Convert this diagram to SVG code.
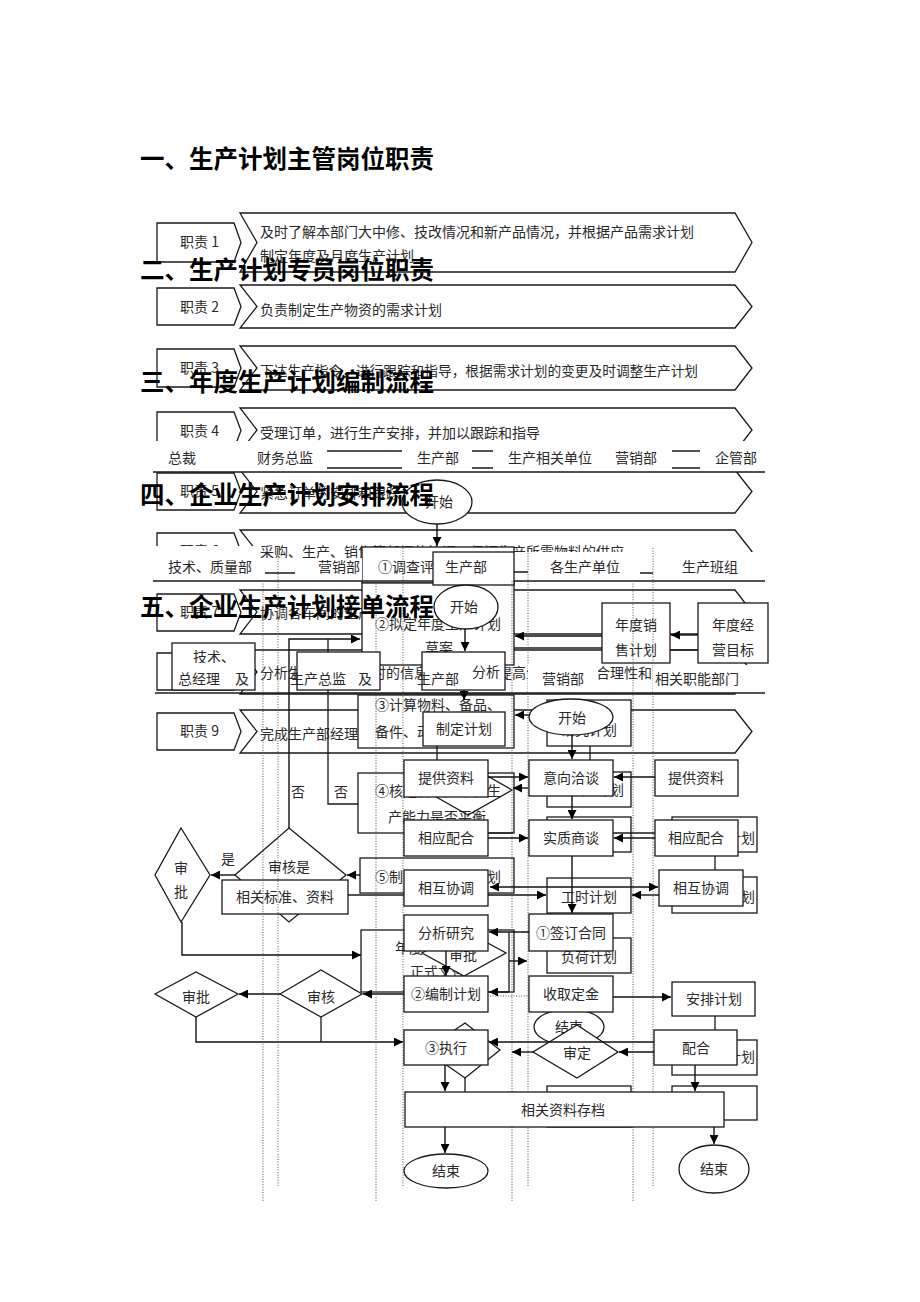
<svg xmlns="http://www.w3.org/2000/svg" width="920" height="1302" viewBox="0 0 920 1302">
<defs>
<style>
.b{fill:#fff;stroke:#1a1a1a;stroke-width:1.3}
.o{fill:none;stroke:#1a1a1a;stroke-width:1.3}
.w{fill:#fff;stroke:none}
.d{fill:none;stroke:#555;stroke-width:1;stroke-dasharray:1 1.6}
.t{font-family:"Noto Sans CJK SC","Noto Sans",sans-serif;font-size:14px;fill:#2a2a2a}
.c{text-anchor:middle}
.e{text-anchor:end}
.h{font-family:"Noto Sans CJK SC","Noto Sans",sans-serif;font-size:24.5px;font-weight:bold;fill:#000}
.a{fill:none;stroke:#111;stroke-width:1.4;marker-end:url(#ah)}
.a2{fill:none;stroke:#111;stroke-width:1.4;marker-end:url(#ah);marker-start:url(#ah)}
</style>
<marker id="ah" viewBox="0 0 10 10" refX="10" refY="5" markerWidth="10" markerHeight="9" markerUnits="userSpaceOnUse" orient="auto-start-reverse"><path d="M0,0 L10,5 L0,10 z" fill="#000"/></marker>
</defs>
<rect width="920" height="1302" fill="#fff"/>

<!-- duty rows -->
<g id="duty1"><polygon class="b" points="240,213 735,213 752,242.5 735,272 240,272 257,242.5"/><polygon class="b" points="157,223 234,223 241,242.5 234,262 157,262"/><text class="t" x="180" y="247">职责 1</text><text class="t" x="260" y="237">及时了解本部门大中修、技改情况和新产品情况，并根据产品需求计划</text><text class="t" x="260" y="261">制定年度及月度生产计划</text></g>
<g id="duty2"><polygon class="b" points="240,285 735,285 752,306.5 735,328 240,328 257,306.5"/><polygon class="b" points="157,288 234,288 241,306.5 234,325 157,325"/><text class="t" x="180" y="312">职责 2</text><text class="t" x="260" y="315">负责制定生产物资的需求计划</text></g>
<g id="duty3"><polygon class="b" points="240,346 735,346 752,368 735,390 240,390 257,368"/><polygon class="b" points="157,349 234,349 241,368 234,387 157,387"/><text class="t" x="180" y="373">职责 3</text><text class="t" x="260" y="376" style="font-size:13.7px">下达生产指令，进行跟踪和指导，根据需求计划的变更及时调整生产计划</text></g>
<g id="duty4"><polygon class="b" points="240,408 735,408 752,430 735,452 240,452 257,430"/><polygon class="b" points="157,412 234,412 241,430.5 234,449 157,449"/><text class="t" x="180" y="436">职责 4</text><text class="t" x="260" y="438">受理订单，进行生产安排，并加以跟踪和指导</text></g>
<g id="duty5"><polygon class="b" points="240,470 735,470 752,491.5 735,513 240,513 257,491.5"/><polygon class="b" points="157,473 234,473 241,491.5 234,510 157,510"/><text class="t" x="180" y="496">职责 5</text><text class="t" x="260" y="498">紧急订单的安排和跟踪</text></g>
<g id="duty6"><polygon class="b" points="240,530 735,530 752,551.5 735,573 240,573 257,551.5"/><polygon class="b" points="157,533 234,533 241,551.5 234,570 157,570"/><text class="t" x="180" y="556">职责 6</text><text class="t" x="260" y="557">采购、生产、销售等部门的协调，保证生产所需物料的供应</text></g>
<g id="duty7"><polygon class="b" points="240,590 735,590 752,612 735,634 240,634 257,612"/><polygon class="b" points="157,594 234,594 241,612.5 234,631 157,631"/><text class="t" x="180" y="617">职责 7</text><text class="t" x="260" y="618">协调各车间的生产工作</text></g>
<g id="duty8"><polygon class="b" points="240,650 735,650 752,672 735,694 240,694 257,672"/><polygon class="b" points="157,653 234,653 241,671.5 234,690 157,690"/><text class="t" x="180" y="677">职责 8</text><text class="t" x="260" y="678">分析生产过程中及时的信息反馈，不断提高生产计划的合理性和准确性</text></g>
<g id="duty9"><polygon class="b" points="240,710 735,710 752,731.5 735,753 240,753 257,731.5"/><polygon class="b" points="157,713 234,713 241,731.5 234,750 157,750"/><text class="t" x="180" y="736">职责 9</text><text class="t" x="260" y="739">完成生产部经理交办的其他工作</text></g>

<!-- flow 3 header -->
<g id="f3-header"><rect class="w" x="153" y="441" width="612" height="31"/>
<path class="o" d="M327,451H402M327,468H402M472,451H493M472,468H493M672,451H700M672,468H700M153,472H765"/>
<text class="t" x="168" y="463">总裁</text><text class="t" x="257" y="463">财务总监</text><text class="t" x="417" y="463">生产部</text><text class="t" x="508" y="463">生产相关单位</text><text class="t" x="615" y="463">营销部</text><text class="t" x="715" y="463">企管部</text></g>

<!-- flow 3 nodes -->
<g id="f3-start"><ellipse class="b" cx="437" cy="502" rx="35" ry="22"/><text class="t c" x="439" y="507">开始</text></g>
<g id="f3-s1"><rect class="b" x="362" y="547" width="152" height="36"/><text class="t" x="378" y="572">①调查评估</text></g>
<g id="f3-s2"><rect class="b" x="362" y="583" width="152" height="82"/><text class="t" x="375" y="629">②拟定年度生产计划</text><text class="t c" x="439" y="653">草案</text></g>
<g id="f3-sales"><rect class="b" x="602" y="603" width="68" height="60"/><text class="t c" x="636" y="630">年度销</text><text class="t c" x="636" y="655">售计划</text></g>
<g id="f3-goal"><rect class="b" x="698" y="603" width="70" height="60"/><text class="t c" x="733" y="630">年度经</text><text class="t c" x="733" y="655">营目标</text></g>
<g id="f3-s3"><rect class="b" x="358" y="695" width="156" height="53"/><text class="t" x="375" y="710">③计算物料、备品、</text><text class="t" x="375" y="737">备件、动力需求</text></g>
<g id="f3-s4"><rect class="b" x="358" y="773" width="156" height="60"/><text class="t" x="375" y="796">④核定各生产单位生</text><text class="t" x="388" y="822">产能力是否平衡</text><polygon class="o" points="468,765 512,790 468,815 424,790"/></g>
<g id="f3-s5"><rect class="b" x="360" y="858" width="154" height="35"/><text class="t" x="375" y="882">⑤制定年度生产计划</text></g>
<g id="f3-check"><polygon class="b" points="289,828 346,875 289,922 235,875"/><text class="t c" x="289" y="872">审核是</text></g>
<g id="f3-approve"><polygon class="b" points="181,828 210,875 181,922 155,875"/><text class="t c" x="181" y="873">审</text><text class="t c" x="181" y="897">批</text></g>
<g id="f3-std"><rect class="b" x="222" y="880" width="126" height="34"/><text class="t c" x="285" y="902">相关标准、资料</text></g>
<g id="f3-doc"><rect class="b" x="361" y="930" width="153" height="62"/><text class="t c" x="437" y="953">年度生产计划</text><text class="t c" x="438" y="977">正式文件</text></g>
<g id="f3-approve2"><polygon class="b" points="464,930 506,953 464,976 422,953"/><text class="t c" x="463" y="960">审批</text></g>
<g id="f3-check2"><polygon class="b" points="280,994 321,970 362,994 321,1017"/><text class="t c" x="321" y="1002">审核</text></g>
<g id="f3-approve3"><polygon class="b" points="155,994 196,972 238,994 196,1017"/><text class="t c" x="196" y="1002">审批</text></g>

<g id="f3-connectors">
<path class="a" d="M437,524V546"/>
<path class="a" d="M289,828V639H360"/>
<path class="o" d="M358,804H328V639"/>
<path class="a" d="M235,875H211"/>
<path class="a" d="M360,875H347"/>
<path class="a" d="M182,922V955H361"/>
<path class="o" d="M348,895H404"/>
<path class="a" d="M404,994H363"/>
<path class="a" d="M280,994H239"/>
<path class="a" d="M196,1017V1042H403"/>
<path class="o" d="M321,1017V1042"/>
<path class="a" d="M602,636H515"/>
<path class="o" d="M514,648H602"/>
<path class="a" d="M698,635H671"/>
<path class="o" d="M670,650H698"/>
<text class="t c" x="298" y="797">否</text><text class="t c" x="341" y="797">否</text><text class="t c" x="228" y="864">是</text>
</g>

<!-- flow 4 header -->
<g id="f4-header"><rect class="w" x="153" y="546" width="105" height="35"/><rect class="w" x="258" y="558" width="104" height="23"/><rect class="w" x="514" y="552" width="251" height="29"/>
<path class="o" d="M265,573H295M514,572H528M640,573H653M153,581H765"/>
<text class="t" x="168" y="572">技术、质量部</text><text class="t" x="318" y="572">营销部</text><text class="t" x="550" y="572">各生产单位</text><text class="t" x="682" y="572">生产班组</text>
<rect class="b" x="433" y="552" width="81" height="33"/><text class="t c" x="466" y="572">生产部</text></g>

<!-- lane dividers -->
<g id="lanes">
<path class="d" d="M263,581V1202M376,581V1202M512,581V1202M633,581V1202"/>
<path class="d" d="M278,548V1187M403,548V1187M528,548V1187M653,548V1187"/>
</g>

<!-- flow 4 nodes -->
<g id="f4-start"><ellipse class="b" cx="466" cy="607" rx="32" ry="22"/><text class="t c" x="464" y="612">开始</text></g>
<g id="f4-analyse"><rect class="b" x="422" y="652" width="83" height="38"/><text class="t c" x="486" y="677">分析</text></g>
<g id="f4-plan"><rect class="b" x="423" y="712" width="82" height="34"/><text class="t c" x="464" y="734">制定计划</text></g>
<g id="f4-study"><rect class="b" x="547" y="700" width="84" height="46"/><text class="t c" x="589" y="735">研究计划</text></g>
<g id="f4-p1"><rect class="b" x="547" y="772" width="84" height="35"/><text class="t c" x="596" y="795">生产计划</text></g>
<g id="f4-p2"><rect class="b" x="547" y="817" width="84" height="35"/></g>
<g id="f4-hours"><rect class="b" x="547" y="878" width="84" height="35"/><text class="t c" x="589" y="902">工时计划</text></g>
<g id="f4-load"><rect class="b" x="547" y="938" width="84" height="35"/><text class="t c" x="589" y="962">负荷计划</text></g>
<g id="f4-g1"><rect class="b" x="672" y="817" width="85" height="35"/><text class="t e" x="755" y="843">计划</text></g>
<g id="f4-g2"><rect class="b" x="672" y="877" width="85" height="36"/><text class="t e" x="755" y="902">计划</text></g>
<g id="f4-g3"><rect class="b" x="672" y="1040" width="85" height="35"/><text class="t e" x="755" y="1062">计划</text></g>
<g id="f4-g4"><rect class="b" x="672" y="1086" width="85" height="34"/></g>
<g id="f4-p3"><rect class="b" x="547" y="1086" width="84" height="41"/></g>
<g id="f4-end"><ellipse class="b" cx="569" cy="1027" rx="35" ry="18"/><text class="t c" x="569" y="1032">结束</text></g>
<g id="f4-decide"><polygon class="b" points="577,1025 618,1052 577,1078 533,1052"/><text class="t c" x="577" y="1058">审定</text></g>
<g id="f4-dia"><polygon class="b" points="465,1023 500,1050 465,1078 425,1050"/></g>
<g id="f4-connectors">
<path class="a" d="M465,629V651"/>
<path class="a" d="M464,690V700"/>
<path class="o" d="M437,746V760"/>
<path class="a" d="M530,715H515"/>
<path class="o" d="M590,746V760"/>
<path class="o" d="M465,1078V1092"/>
</g>

<!-- flow 5 header -->
<g id="f5-header">
<rect class="b" x="172" y="643" width="83" height="47"/>
<text class="t" x="193" y="662">技术、</text>
<rect class="w" x="173" y="663" width="81" height="26"/>
<text class="t" x="178" y="684">总经理</text><text class="t" x="235" y="684">及</text>
<rect class="b" x="297" y="652" width="83" height="38"/>
<text class="t" x="290" y="684">生产总监</text><text class="t" x="358" y="684">及</text>
<rect class="w" x="528" y="665" width="70" height="28"/><text class="t" x="542" y="684">营销部</text>
<rect class="w" x="653" y="665" width="102" height="28"/><text class="t" x="655" y="684">相关职能部门</text>
<text class="t" x="417" y="684">生产部</text>
<path class="o" d="M155,693H765"/>
</g>

<!-- flow 5 nodes -->
<g id="f5-start"><ellipse class="b" cx="571" cy="717" rx="42" ry="18"/><text class="t c" x="572" y="723">开始</text></g>
<g id="f5-intent"><rect class="b" x="529" y="760" width="84" height="36"/><text class="t c" x="571" y="783">意向洽谈</text></g>
<g id="f5-nego"><rect class="b" x="529" y="820" width="84" height="36"/><text class="t c" x="571" y="843">实质商谈</text></g>
<g id="f5-sign"><rect class="b" x="529" y="914" width="84" height="37"/><text class="t c" x="571" y="938">①签订合同</text></g>
<g id="f5-deposit"><rect class="b" x="529" y="976" width="84" height="36"/><text class="t c" x="571" y="999">收取定金</text></g>
<g id="f5-infoL"><rect class="b" x="404" y="760" width="84" height="37"/><text class="t c" x="446" y="783">提供资料</text></g>
<g id="f5-coopL"><rect class="b" x="404" y="820" width="84" height="36"/><text class="t c" x="446" y="843">相应配合</text></g>
<g id="f5-coordL"><rect class="b" x="404" y="870" width="84" height="36"/><text class="t c" x="446" y="893">相互协调</text></g>
<g id="f5-research"><rect class="b" x="404" y="915" width="84" height="36"/><text class="t c" x="446" y="938">分析研究</text></g>
<g id="f5-compile"><rect class="b" x="404" y="976" width="84" height="36"/><text class="t c" x="446" y="999">②编制计划</text></g>
<g id="f5-exec"><rect class="b" x="404" y="1030" width="84" height="35"/><text class="t c" x="446" y="1053">③执行</text></g>
<g id="f5-archive"><rect class="b" x="405" y="1092" width="319" height="35"/><text class="t c" x="563" y="1115">相关资料存档</text></g>
<g id="f5-endL"><ellipse class="b" cx="446" cy="1171" rx="42" ry="17"/><text class="t c" x="446" y="1176">结束</text></g>
<g id="f5-infoR"><rect class="b" x="655" y="760" width="83" height="36"/><text class="t c" x="696" y="783">提供资料</text></g>
<g id="f5-coopR"><rect class="b" x="655" y="820" width="83" height="36"/><text class="t c" x="696" y="843">相应配合</text></g>
<g id="f5-coordR"><rect class="b" x="659" y="870" width="84" height="36"/><text class="t c" x="701" y="893">相互协调</text></g>
<g id="f5-arrange"><rect class="b" x="672" y="982" width="83" height="34"/><text class="t c" x="714" y="1004">安排计划</text></g>
<g id="f5-assist"><rect class="b" x="654" y="1030" width="83" height="35"/><text class="t c" x="696" y="1053">配合</text></g>
<g id="f5-endR"><ellipse class="b" cx="714" cy="1169" rx="35" ry="24"/><text class="t c" x="714" y="1174">结束</text></g>

<g id="f5-connectors">
<path class="a" d="M572,735V759"/>
<path class="a" d="M572,796V819"/>
<path class="a" d="M572,856V913"/>
<path class="a" d="M488,777H528"/>
<path class="a" d="M528,788H513"/>
<path class="a" d="M655,777H614"/>
<path class="o" d="M488,833H513"/>
<path class="a" d="M488,838H528"/>
<path class="o" d="M655,833H613"/>
<path class="a" d="M655,838H614"/>
<path class="o" d="M715,856V870"/>
<path class="a2" d="M490,887H658"/>
<path class="a" d="M488,895H546"/>
<path class="a" d="M659,895H632"/>
<path class="a" d="M529,932H489"/>
<path class="a" d="M446,951V975"/>
<path class="o" d="M509,932V992"/>
<path class="a" d="M509,961H527"/>
<path class="a" d="M509,992H489"/>
<path class="d" d="M490,996H529"/>
<path class="a" d="M613,997H671"/>
<path class="o" d="M715,1016V1030"/>
<path class="a" d="M654,1042H489"/>
<path class="a" d="M654,1052H619"/>
<path class="a" d="M533,1052H512"/>
<path class="a" d="M445,1065V1091"/>
<path class="a" d="M695,1065V1091"/>
<path class="a" d="M445,1127V1153"/>
<path class="a" d="M714,1127V1144"/>
</g>

<!-- headings -->
<g id="headings">
<text class="h" x="140" y="168">一、生产计划主管岗位职责</text>
<text class="h" x="140" y="279">二、生产计划专员岗位职责</text>
<text class="h" x="140" y="391">三、年度生产计划编制流程</text>
<text class="h" x="140" y="504">四、企业生产计划安排流程</text>
<text class="h" x="140" y="616">五、企业生产计划接单流程</text>
</g>
</svg>
